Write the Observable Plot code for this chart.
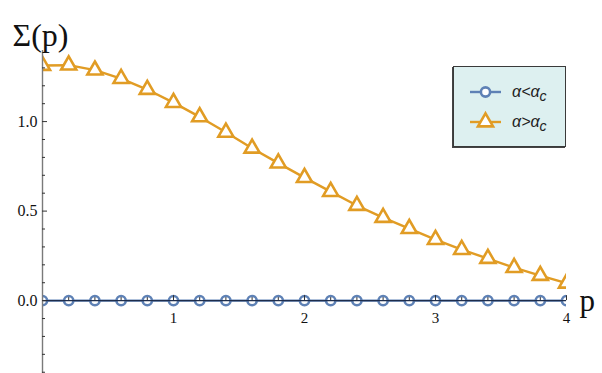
<!DOCTYPE html>
<html>
<head>
<meta charset="utf-8">
<script src="https://cdn.jsdelivr.net/npm/d3@7"></script>
<script src="https://cdn.jsdelivr.net/npm/@observablehq/plot@0.6"></script>
<style>
  html, body { margin: 0; padding: 0; background: #fff; }
  #wrap { position: relative; width: 602px; height: 373px; overflow: hidden; }
  #legend { position: absolute; left: 453px; top: 66px; width: 111px; height: 79px;
            background: #ddf0f0; border: 1.5px solid #3a3a3a; box-shadow: -1px 1px 0 #444; }
</style>
</head>
<body>
<div id="wrap"><div id="legend"></div></div>
<script>
// ---- data ----
const p = [0, 0.2, 0.4, 0.6, 0.8, 1.0, 1.2, 1.4, 1.6, 1.8, 2.0, 2.2, 2.4, 2.6, 2.8, 3.0, 3.2, 3.4, 3.6, 3.8, 4.0];
const sigmaBelow = [0, 0, 0, 0, 0, 0, 0, 0, 0, 0, 0, 0, 0, 0, 0, 0, 0, 0, 0, 0, 0];
const sigmaAbove = [1.313, 1.315, 1.287, 1.240, 1.179, 1.106, 1.026, 0.940, 0.851, 0.768, 0.687, 0.609, 0.531, 0.464, 0.402, 0.341, 0.285, 0.235, 0.184, 0.140, 0.097];
const seriesNames = ["α<αc", "α>αc"];
const xTickLabels = [1, 2, 3, 4];
const xMinorTicks = [0.2, 0.4, 0.6, 0.8, 1.2, 1.4, 1.6, 1.8, 2.2, 2.4, 2.6, 2.8, 3.2, 3.4, 3.6, 3.8];
const yTickLabels = [0, 0.5, 1.0];
const yMinorTicks = [-0.4, -0.3, -0.2, -0.1, 0.1, 0.2, 0.3, 0.4, 0.6, 0.7, 0.8, 0.9, 1.1, 1.2, 1.3];

const blue = "#5e81b5", orange = "#e19c24";
const below = p.map((x, i) => ({x, y: sigmaBelow[i]}));
const above = p.map((x, i) => ({x, y: sigmaAbove[i]}));
const serif = "'Liberation Serif', 'Times New Roman', serif";
const fmt = d3.format(".1f");

const chart = Plot.plot({
  width: 602, height: 373,
  marginLeft: 42, marginRight: 36, marginTop: 50, marginBottom: 0,
  x: {domain: [0, 4], axis: null},
  y: {domain: [-0.407, 1.397], axis: null},
  style: {background: "white", overflow: "visible"},
  marks: [
    Plot.line(below, {x: "x", y: "y", stroke: blue, strokeWidth: 2.4, clip: true}),
    Plot.line(above, {x: "x", y: "y", stroke: orange, strokeWidth: 2.4, clip: true}),
    Plot.dot(above, {x: "x", y: "y", symbol: "triangle", r: 5.6, stroke: orange, fill: "white", strokeWidth: 2.6, clip: true}),
    Plot.dot(below, {x: "x", y: "y", symbol: "circle", r: 4.6, stroke: blue, fill: "white", strokeWidth: 2.6, clip: true}),
    // axes
    Plot.ruleY([0], {stroke: "#1e2d4c", strokeWidth: 1.3}),
    Plot.ruleX([0], {stroke: "#7a7a7a", strokeWidth: 1.4}),
    // y ticks (inward)
    Plot.ruleY(yTickLabels, {x1: 0, x2: 0, y: d => d, insetRight: -5, stroke: "#333", strokeWidth: 1}),
    Plot.ruleY(yMinorTicks, {x1: 0, x2: 0, y: d => d, insetRight: -3, stroke: "#333", strokeWidth: 1}),
    // x ticks (upward)
    Plot.ruleX(xTickLabels, {x: d => d, y1: 0, y2: 0, insetTop: -5, stroke: "#333", strokeWidth: 1}),
    Plot.ruleX(xMinorTicks, {x: d => d, y1: 0, y2: 0, insetTop: -3, stroke: "#333", strokeWidth: 1}),
    // tick labels
    Plot.text(yTickLabels, {x: 0, y: d => d, text: d => fmt(d), textAnchor: "end", dx: -5, fontFamily: serif, fontSize: 16, fill: "#111"}),
    Plot.text(xTickLabels, {x: d => d, y: 0, text: d => String(d), dy: 18, fontFamily: serif, fontSize: 15, fill: "#111"}),
    // axis labels
    Plot.text(["p"], {x: 4, y: 0, text: d => d, textAnchor: "start", dx: 13, dy: 0, fontFamily: serif, fontSize: 31, fill: "#111"}),
    Plot.text(["Σ(p)"], {frameAnchor: "top-left", text: d => d, textAnchor: "start", dx: -30, dy: -27, fontFamily: serif, fontSize: 32, fill: "#111"})
  ]
});
const wrap = document.getElementById("wrap");
wrap.insertBefore(chart, wrap.firstChild);

// legend
const lg = d3.select("#legend").append("svg").attr("width", 111).attr("height", 79);
const markers = [
  {name: seriesNames[0], color: blue, sym: d3.symbolCircle, size: Math.PI * 4.6 * 4.6, y: 25},
  {name: seriesNames[1], color: orange, sym: d3.symbolTriangle, size: Math.PI * 5.6 * 5.6, y: 55}
];
for (const m of markers) {
  lg.append("line").attr("x1", 16).attr("x2", 47).attr("y1", m.y).attr("y2", m.y)
    .attr("stroke", m.color).attr("stroke-width", 2.4);
  lg.append("path").attr("d", d3.symbol(m.sym, m.size)()).attr("transform", `translate(31.5,${m.y})`)
    .attr("fill", "white").attr("stroke", m.color).attr("stroke-width", 2.6);
  const t = lg.append("text").attr("x", 58).attr("y", m.y + 5)
    .attr("font-family", "'Liberation Sans', Arial, sans-serif").attr("font-size", 16)
    .attr("font-style", "italic").attr("fill", "#222");
  t.append("tspan").text(m.name.slice(0, 3));
  t.append("tspan").attr("dy", 4).attr("font-size", 14).text(m.name.slice(3));
}
</script>
</body>
</html>
